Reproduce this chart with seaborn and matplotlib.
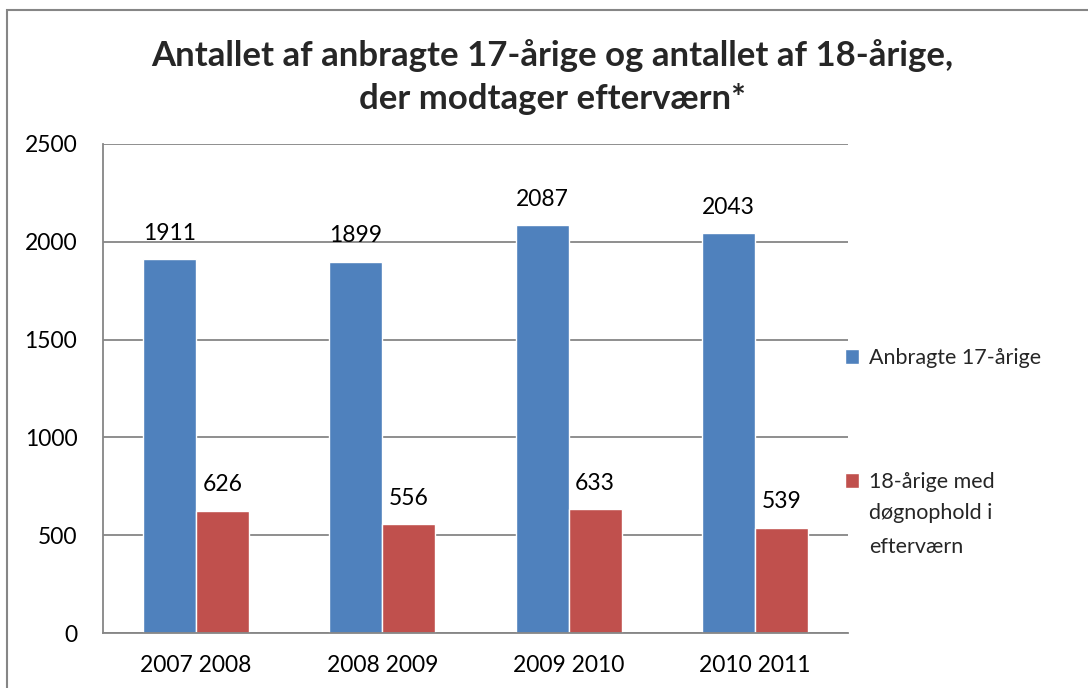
import matplotlib
matplotlib.use("Agg")
import matplotlib.pyplot as plt
import matplotlib.patches as mpatches
import seaborn as sns
import pandas as pd

categories = ["2007 2008", "2008 2009", "2009 2010", "2010 2011"]
series_names = ["Anbragte 17-årige", "18-årige med døgnophold i efterværn"]
legend_first_lines = ["Anbragte 17-årige", "18-årige med"]
legend_more_lines = ["", "døgnophold i\nefterværn"]
anbragte_17 = [1911, 1899, 2087, 2043]
efterværn_18 = [626, 556, 633, 539]
title = "Antallet af anbragte 17-årige og antallet af 18-årige,\nder modtager efterværn*"
yticks = [0, 500, 1000, 1500, 2000, 2500]

df = pd.DataFrame({
    "periode": categories * 2,
    "serie": [series_names[0]] * 4 + [series_names[1]] * 4,
    "antal": anbragte_17 + efterværn_18,
})

sns.set_theme(style="white")
plt.rcParams["font.family"] = ["Lato", "DejaVu Sans"]

W, H = 1088, 688
fig = plt.figure(figsize=(W / 100, H / 100), dpi=100)
ax = fig.add_axes([103 / W, 1 - 633 / H, (848 - 103) / W, (633 - 144) / H])

sns.barplot(data=df, x="periode", y="antal", hue="serie",
            palette=["#4F81BD", "#C0504D"], width=0.57, saturation=1,
            ax=ax, legend=True)

ax.set_ylim(0, 2500)
ax.set_yticks(yticks)
ax.set_xlim(-0.5, 3.5)
ax.yaxis.grid(True, color="#868686", linewidth=1.3)
ax.set_axisbelow(True)
ax.set_xlabel("")
ax.set_ylabel("")
for s in ["top", "right"]:
    ax.spines[s].set_visible(False)
for s in ["left", "bottom"]:
    ax.spines[s].set_color("#868686")
    ax.spines[s].set_linewidth(1.3)
ax.tick_params(axis="y", length=0, pad=18.5, labelsize=16.5, colors="black")
ax.tick_params(axis="x", length=0, pad=16, labelsize=16.5, colors="black")

for cont in ax.containers:
    ax.bar_label(cont, padding=11, fontsize=16.5, color="black")

handles, _ = ax.get_legend_handles_labels()
ax.get_legend().remove()

LFS = 15.5
centers_y = [358, 482]
legs = []
for h, lab, cy in zip(handles, legend_first_lines, centers_y):
    leg = fig.legend([h], [lab], loc="center left",
                     bbox_to_anchor=(845 / W, 1 - cy / H), frameon=False,
                     fontsize=LFS, handlelength=0.65, handleheight=0.65,
                     handletextpad=0.45, borderpad=0, borderaxespad=0)
    legs.append(leg)

fig.text(552 / W, 1 - 77 / H, title, ha="center", va="center",
         fontsize=25, fontweight="bold", linespacing=1.45)

border = mpatches.Rectangle((7 / W, -0.5), 2, 0.5 + 1 - 10 / H,
                            transform=fig.transFigure, fill=False,
                            edgecolor="#868686", linewidth=1.5)
fig.patches.append(border)

fig.canvas.draw()
r = fig.canvas.get_renderer()
for leg, more, cy in zip(legs, legend_more_lines, centers_y):
    if not more:
        continue
    bb = leg.get_texts()[0].get_window_extent(r)
    fig.text(bb.x0 / W, 1 - (cy + 21) / H, more, ha="left", va="top",
             fontsize=LFS, linespacing=1.85)

fig.savefig("out.png", dpi=100)
